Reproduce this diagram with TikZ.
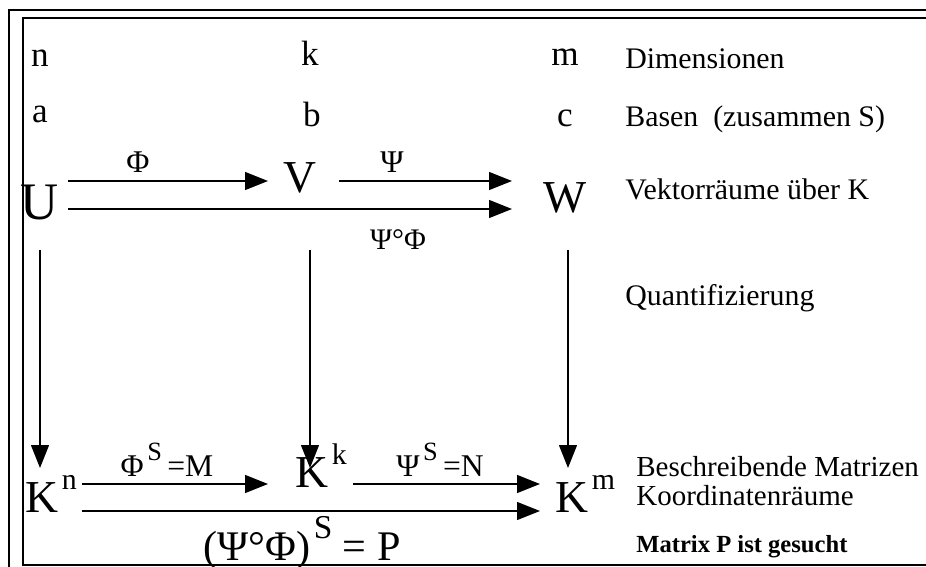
\documentclass[tikz,border=0pt]{standalone}
\usepackage{fontspec}
\setmainfont{Liberation Serif}
\usetikzlibrary{arrows.meta,positioning}
\definecolor{ink}{HTML}{000000}
\newcommand\hochS[3]{\kern2pt\raisebox{#2}{\fontsize{#1}{#1}\selectfont #3}}
\tikzset{
  frame/.style={draw=ink, line width=1.3pt},
  idx/.style={font=\fontsize{20}{24}\selectfont, inner sep=0pt, anchor=base},
  raum/.style={font=\fontsize{26}{30}\selectfont, inner sep=0pt},
  note/.style={font=\fontsize{17}{20}\selectfont, anchor=base west, inner sep=0pt},
  maplbl/.style={font=\fontsize{18}{21}\selectfont, inner sep=0pt},
  pfeil/.style={-{Triangle[length=4.6mm,width=3.6mm]}, line width=0.8pt, draw=ink}
}

\begin{document}
\begin{tikzpicture}[x=0.02cm, y=-0.02cm]
  \useasboundingbox (0,0) rectangle (926,567);
  \clip (0,0) rectangle (926,567);
  % doppelter Rahmen
  \draw[frame] (9,10) rectangle (1000,620);
  \draw[frame] (23,18) rectangle (1000,565);

  % Dimensionen und Basen
  \node[idx] (dn) at (40,67) {n};
  \node[idx] (dk) at (310,66) {k};
  \node[idx] (dm) at (565,66) {m};
  \node[note] (tdim) at (625,69) {Dimensionen};
  \node[idx] (ba) at (40,123) {a};
  \node[idx] (bb) at (312,127) {b};
  \node[idx] (bc) at (565,127) {c};
  \node[note] (tbas) at (625,127) {Basen\ \ (zusammen S)};

  % Vektorraeume
  \node[raum, font=\fontsize{30}{34}\selectfont] (U) at (40,203) {U};
  \node[raum] (V) at (300,178) {V};
  \node[raum] (W) at (565,198) {W};
  \node[note] (tvek) at (625,200) {Vektorräume über K};

  \coordinate (phiA) at (68,181);
  \coordinate (phiB) at (268,181);
  \coordinate (psiA) at (339,181);
  \coordinate (psiB) at (512,181);
  \coordinate (compA) at (68,209);
  \coordinate (compB) at (512,209);
  \draw[pfeil] (phiA) -- (phiB);
  \draw[pfeil] (psiA) -- (psiB);
  \draw[pfeil] (compA) -- (compB);
  \node[maplbl] (lphi) at (138,162) {Φ};
  \node[maplbl] (lpsi) at (392,162) {Ψ};
  \node[maplbl, font=\fontsize{17}{20}\selectfont] (lcomp) at (398,240) {Ψ°Φ};

  % Quantifizierung
  \coordinate (qU) at (40,250);
  \coordinate (qV) at (310,250);
  \coordinate (qW) at (568,250);
  \coordinate (kU) at (40,468);
  \coordinate (kV) at (310,468);
  \coordinate (kW) at (568,468);
  \draw[pfeil] (qU) -- (kU);
  \draw[pfeil] (qV) -- (kV);
  \draw[pfeil] (qW) -- (kW);
  \node[note] (tquant) at (625,306) {Quantifizierung};

  % Koordinatenraeume
  \node[raum, anchor=base west] (Kn) at (25,512) {K\hochS{17}{0.5em}{n}};
  \node[raum, anchor=base west] (Kk) at (295,487) {K\hochS{17}{0.5em}{k}};
  \node[raum, anchor=base west] (Km) at (555,512) {K\hochS{17}{0.5em}{m}};
  \node[note, font=\fontsize{16.5}{20}\selectfont] (tbes) at (636,476) {Beschreibende Matrizen};
  \node[note, font=\fontsize{16.5}{20}\selectfont] (tkoo) at (636,505) {Koordinatenräume};
  \node[note, font=\fontsize{14}{17}\selectfont\bfseries] (tges) at (636,552) {Matrix P ist gesucht};

  \coordinate (mA) at (82,484);
  \coordinate (mB) at (268,484);
  \coordinate (nA) at (353,484);
  \coordinate (nB) at (540,484);
  \coordinate (pA) at (82,511);
  \coordinate (pB) at (540,511);
  \draw[pfeil] (mA) -- (mB);
  \draw[pfeil] (nA) -- (nB);
  \draw[pfeil] (pA) -- (pB);
  \node[maplbl] (lM) at (167,460) {Φ\hochS{15}{0.5em}{S}\,=M};
  \node[maplbl] (lN) at (440,460) {Ψ\hochS{15}{0.5em}{S}\,=N};
  \node[raum, anchor=base, font=\fontsize{24}{28}\selectfont] (lP) at (302,560) {(Ψ°Φ)\hochS{19}{0.5em}{S} = P};
\end{tikzpicture}
\end{document}
